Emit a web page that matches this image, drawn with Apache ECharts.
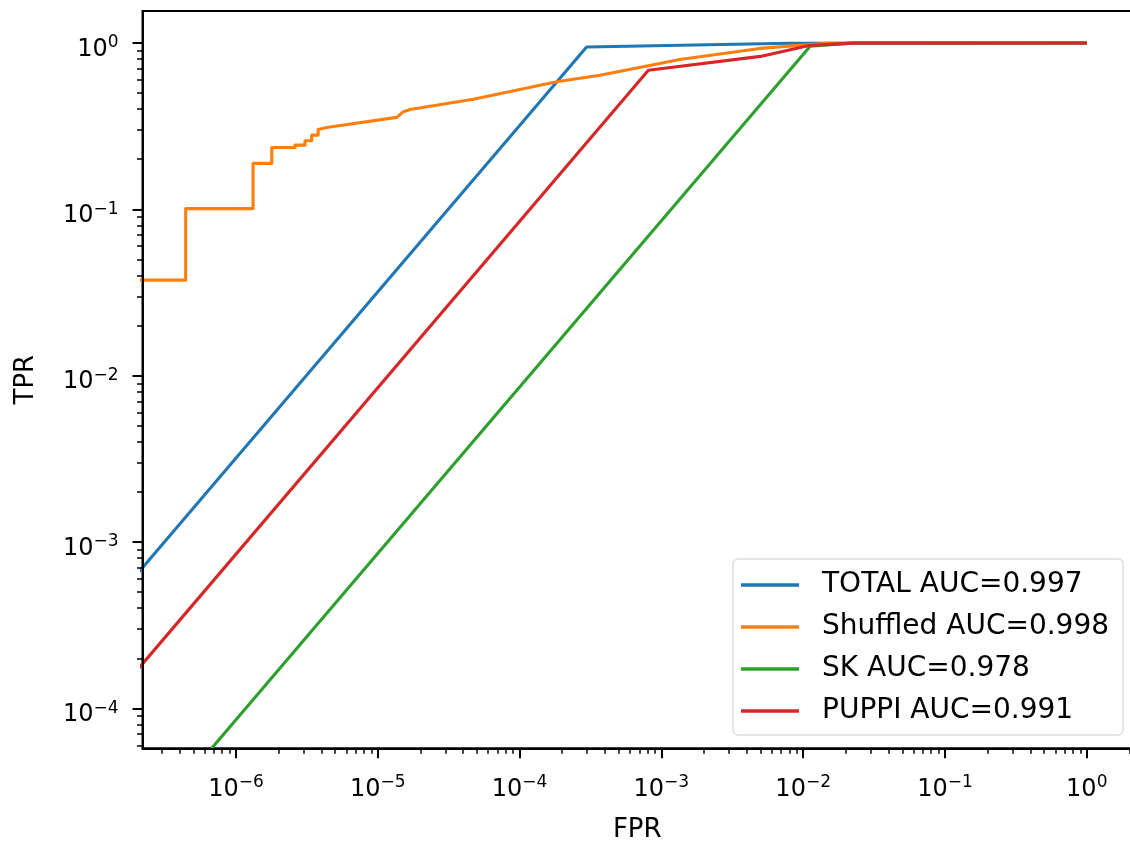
<!DOCTYPE html>
<html>
<head>
<meta charset="utf-8">
<script src="https://cdn.jsdelivr.net/npm/echarts@6/dist/echarts.min.js"></script>
<style>
  html, body { margin: 0; padding: 0; background: #ffffff; }
  #chart { width: 1130px; height: 843px; }
</style>
</head>
<body>
<div id="chart"></div>
<script>
// ROC curves drawn on log-log axes. Every point is [FPR, TPR].
const xRange = [2.193e-7, 2.084];      // FPR axis limits
const yRange = [5.754e-5, 1.556];      // TPR axis limits
const xTickExps = [-6, -5, -4, -3, -2, -1, 0];
const yTickExps = [-4, -3, -2, -1, 0];
const minorMultipliers = [2, 3, 4, 5, 6, 7, 8, 9];

const seriesNames = ['TOTAL AUC=0.997', 'Shuffled AUC=0.998', 'SK AUC=0.978', 'PUPPI AUC=0.991'];
const seriesColors = ['#1f77b4', '#ff7f0e', '#2ca02c', '#d62728'];

const totalRoc = [
  [2.0e-7, 6.4e-4], [2.97e-4, 0.946], [8.0e-3, 0.995], [1, 1]
];
const shuffledRoc = [
  [1.0e-7, 0.0375], [4.42e-7, 0.0375], [4.42e-7, 0.101], [1.32e-6, 0.101],
  [1.32e-6, 0.1887], [1.79e-6, 0.1887], [1.79e-6, 0.235], [2.61e-6, 0.235],
  [2.61e-6, 0.243], [3.07e-6, 0.243], [3.07e-6, 0.258], [3.42e-6, 0.258],
  [3.42e-6, 0.279], [3.80e-6, 0.279], [3.80e-6, 0.302], [4.36e-6, 0.310],
  [1.36e-5, 0.357], [1.51e-5, 0.385], [1.69e-5, 0.398], [4.72e-5, 0.459],
  [1.83e-4, 0.584], [3.69e-4, 0.640], [1.35e-3, 0.796], [4.95e-3, 0.927],
  [1.5e-2, 0.995], [1, 1]
];
const skRoc = [
  [5.0e-7, 4.27e-5], [1.12e-2, 0.955], [2.2e-2, 0.998], [1, 1]
];
const puppiRoc = [
  [2.0e-7, 1.69e-4], [8.1e-4, 0.685], [5.0e-3, 0.83], [1.1e-2, 0.965],
  [2.2e-2, 0.998], [1, 1]
];
const rocSets = [totalRoc, shuffledRoc, skRoc, puppiRoc];

const FONT = 'DejaVu Sans';
const log10 = Math.log10;

// Positions are handed to linear axes in decades, so each decade is evenly spaced.
function toDecades(points) {
  return points.map(p => [log10(p[0]), log10(p[1])]);
}

function minorTicks(exps) {
  const out = [];
  const lo = exps[0] - 1, hi = exps[exps.length - 1];
  for (let e = lo; e <= hi; e++) {
    minorMultipliers.forEach(m => out.push(e + log10(m)));
  }
  return out;
}

function powerLabel(v) {
  const e = Math.round(v);
  const s = e < 0 ? '\u2212' + (-e) : String(e);
  return '{b|10}{s|' + s + '}';
}

const xMin = log10(xRange[0]), xMax = log10(xRange[1]);
const yMin = log10(yRange[0]), yMax = log10(yRange[1]);

const xRich = {
  b: { fontFamily: FONT, fontSize: 24, color: '#000', verticalAlign: 'middle' },
  s: { fontFamily: FONT, fontSize: 17, color: '#000', verticalAlign: 'middle', padding: [0, 0, 13, 0] }
};
const yRich = {
  b: { fontFamily: FONT, fontSize: 24, color: '#000', verticalAlign: 'middle', padding: [13, 0, 0, 0] },
  s: { fontFamily: FONT, fontSize: 17, color: '#000', verticalAlign: 'middle' }
};

const chart = echarts.init(document.getElementById('chart'), null, { renderer: 'canvas' });

chart.setOption({
  animation: false,
  backgroundColor: '#ffffff',
  grid: {
    left: 142.5, top: 11, right: -2, bottom: 94.7,
    show: true, borderColor: '#000', borderWidth: 2, backgroundColor: 'transparent',
    containLabel: false, outerBoundsMode: 'none'
  },
  legend: {
    show: true, orient: 'vertical', left: 733, top: 559,
    padding: [12, 14, 10, 8], itemGap: 14, itemWidth: 58, itemHeight: 3.5, icon: 'rect',
    backgroundColor: 'rgba(255,255,255,0.8)', borderColor: '#cccccc', borderWidth: 1, borderRadius: 5,
    selectedMode: false,
    textStyle: { fontFamily: FONT, fontSize: 28, color: '#000', padding: [0, 0, 0, 18] },
    data: seriesNames
  },
  xAxis: [
    {
      type: 'value', min: xMin, max: xMax, position: 'bottom', z: 5,
      axisLine: { show: true, onZero: false, lineStyle: { color: '#000', width: 2 } },
      axisTick: { show: true, length: 10, lineStyle: { color: '#000', width: 2 }, customValues: xTickExps },
      axisLabel: { show: true, customValues: xTickExps, margin: 26, formatter: powerLabel, rich: xRich, color: '#000' },
      splitLine: { show: false },
      name: 'FPR', nameLocation: 'middle', nameGap: 69, nameMoveOverlap: false,
      nameTextStyle: { fontFamily: FONT, fontSize: 26, color: '#000' }
    },
    {
      type: 'value', min: xMin, max: xMax, position: 'bottom', z: 5,
      axisLine: { show: false, onZero: false },
      axisTick: { show: true, length: 5.5, lineStyle: { color: '#000', width: 1.5 }, customValues: minorTicks(xTickExps) },
      axisLabel: { show: false },
      splitLine: { show: false }
    }
  ],
  yAxis: [
    {
      type: 'value', min: yMin, max: yMax, position: 'left', z: 5,
      axisLine: { show: true, onZero: false, lineStyle: { color: '#000', width: 2 } },
      axisTick: { show: true, length: 10, lineStyle: { color: '#000', width: 2 }, customValues: yTickExps },
      axisLabel: { show: true, customValues: yTickExps, margin: 24, formatter: powerLabel, rich: yRich, color: '#000' },
      splitLine: { show: false },
      name: 'TPR', nameLocation: 'middle', nameGap: 103, nameRotate: 90, nameMoveOverlap: false,
      nameTextStyle: { fontFamily: FONT, fontSize: 26, color: '#000' }
    },
    {
      type: 'value', min: yMin, max: yMax, position: 'left', z: 5,
      axisLine: { show: false, onZero: false },
      axisTick: { show: true, length: 5.5, lineStyle: { color: '#000', width: 1.5 }, customValues: minorTicks(yTickExps) },
      axisLabel: { show: false },
      splitLine: { show: false }
    }
  ],
  series: rocSets.map((pts, i) => ({
    type: 'line',
    name: seriesNames[i],
    xAxisIndex: 0,
    yAxisIndex: 0,
    data: toDecades(pts),
    showSymbol: false,
    symbol: 'none',
    clip: true,
    silent: true,
    itemStyle: { color: seriesColors[i] },
    lineStyle: { color: seriesColors[i], width: 3.1, join: 'round' }
  }))
});
</script>
</body>
</html>
